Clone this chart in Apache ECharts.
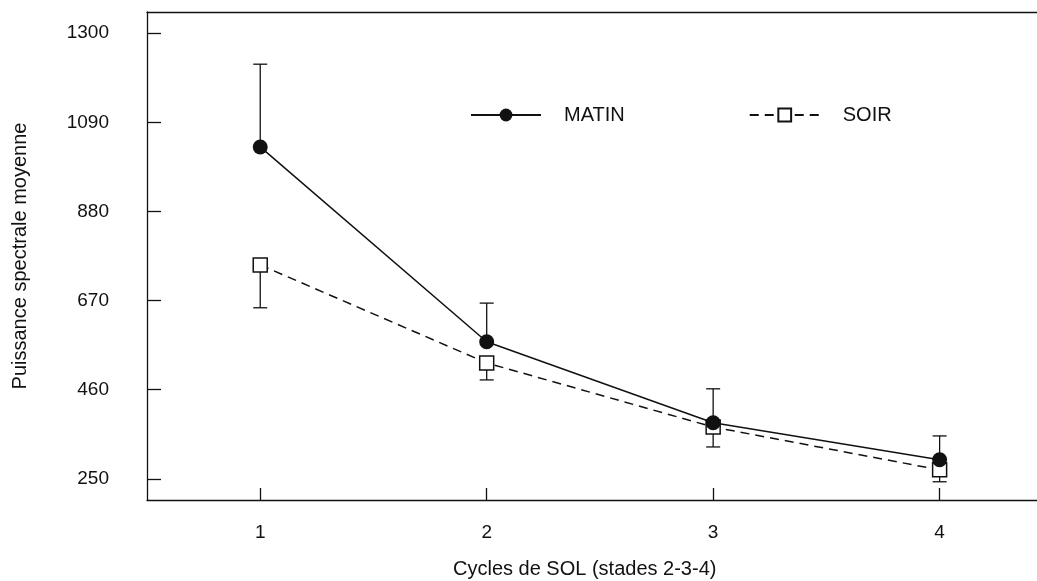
<!DOCTYPE html>
<html>
<head>
<meta charset="utf-8">
<script src="https://cdn.jsdelivr.net/npm/echarts@6/dist/echarts.min.js"></script>
<style>
html,body{margin:0;padding:0;background:#fff;}
#chart{width:1037px;height:581px;}
</style>
</head>
<body>
<div id="chart"></div>
<script>
const cycles = [1, 2, 3, 4];
const matin = [1032, 573, 382, 295];
const matinErrTop = [1227, 664, 462, 351];
const soir = [754, 523, 372, 271];
const soirErrBottom = [653, 483, 325, 243];
const yTicks = [250, 460, 670, 880, 1090, 1300];
const seriesNames = ['MATIN', 'SOIR'];
const yTitle = 'Puissance spectrale moyenne';
const xTitle = 'Cycles de SOL (stades 2-3-4)';

const FONT = '"Liberation Sans", Arial, sans-serif';
const INK = '#111';

function errData(vals, ends) {
  return cycles.map((c, i) => [c, vals[i], ends[i]]);
}
function errRender(params, api) {
  const p0 = api.coord([api.value(0), api.value(1)]);
  const p1 = api.coord([api.value(0), api.value(2)]);
  const w = 7;
  return {
    type: 'group',
    children: [
      {type: 'line', shape: {x1: p0[0], y1: p0[1], x2: p1[0], y2: p1[1]}, style: {stroke: INK, lineWidth: 1.3}},
      {type: 'line', shape: {x1: p1[0] - w, y1: p1[1], x2: p1[0] + w, y2: p1[1]}, style: {stroke: INK, lineWidth: 1.3}}
    ]
  };
}

const chart = echarts.init(document.getElementById('chart'), null, {renderer: 'canvas'});
chart.setOption({
  animation: false,
  backgroundColor: '#fff',
  textStyle: {fontFamily: FONT},
  grid: {left: 147, right: 0, top: 12, bottom: 81, show: false},
  legend: {
    data: seriesNames,
    left: 465, top: 100,
    itemWidth: 70, itemHeight: 16, itemGap: 124,
    textStyle: {fontSize: 20, color: INK, fontFamily: FONT, padding: [0, 0, 0, 18]}
  },
  xAxis: [{
    type: 'value', min: 0.5, max: 4.43,
    splitLine: {show: false},
    axisLine: {show: true, lineStyle: {color: INK, width: 1.3}},
    axisTick: {show: true, inside: true, length: 12, customValues: cycles, lineStyle: {color: INK, width: 1.3}},
    axisLabel: {customValues: cycles, margin: 23, fontSize: 19, color: INK, fontFamily: FONT}
  }, {
    type: 'value', min: 0.5, max: 4.43, position: 'top',
    splitLine: {show: false},
    axisLine: {show: true, lineStyle: {color: INK, width: 1.3}},
    axisTick: {show: false}, axisLabel: {show: false}
  }],
  yAxis: {
    type: 'value', min: 200, max: 1350,
    name: yTitle, nameLocation: 'middle', nameGap: 117, nameRotate: 90,
    nameTextStyle: {fontSize: 20, color: INK, fontFamily: FONT},
    splitLine: {show: false},
    axisLine: {show: true, lineStyle: {color: INK, width: 1.3}},
    axisTick: {show: true, inside: true, length: 14, customValues: yTicks, lineStyle: {color: INK, width: 1.3}},
    axisLabel: {customValues: yTicks, margin: 38, fontSize: 19, color: INK, fontFamily: FONT,
      formatter: v => String(v)}
  },
  graphic: [{
    type: 'text', left: 453, top: 559,
    style: {text: xTitle, fontSize: 20, fill: INK, fontFamily: FONT}
  }],
  series: [
    {type: 'custom', renderItem: errRender, data: errData(matin, matinErrTop), z: 1, silent: true},
    {type: 'custom', renderItem: errRender, data: errData(soir, soirErrBottom), z: 1, silent: true},
    {
      name: seriesNames[0], type: 'line', z: 3,
      data: cycles.map((c, i) => [c, matin[i]]),
      symbol: 'circle', symbolSize: 15,
      lineStyle: {color: INK, width: 1.5, type: 'solid'},
      itemStyle: {color: INK, borderColor: INK, borderWidth: 0}
    },
    {
      name: seriesNames[1], type: 'line', z: 2,
      data: cycles.map((c, i) => [c, soir[i]]),
      symbol: 'rect', symbolSize: 14,
      lineStyle: {color: INK, width: 1.5, type: [9, 6]},
      itemStyle: {color: '#fff', borderColor: INK, borderWidth: 1.5}
    }
  ]
});
</script>
</body>
</html>
